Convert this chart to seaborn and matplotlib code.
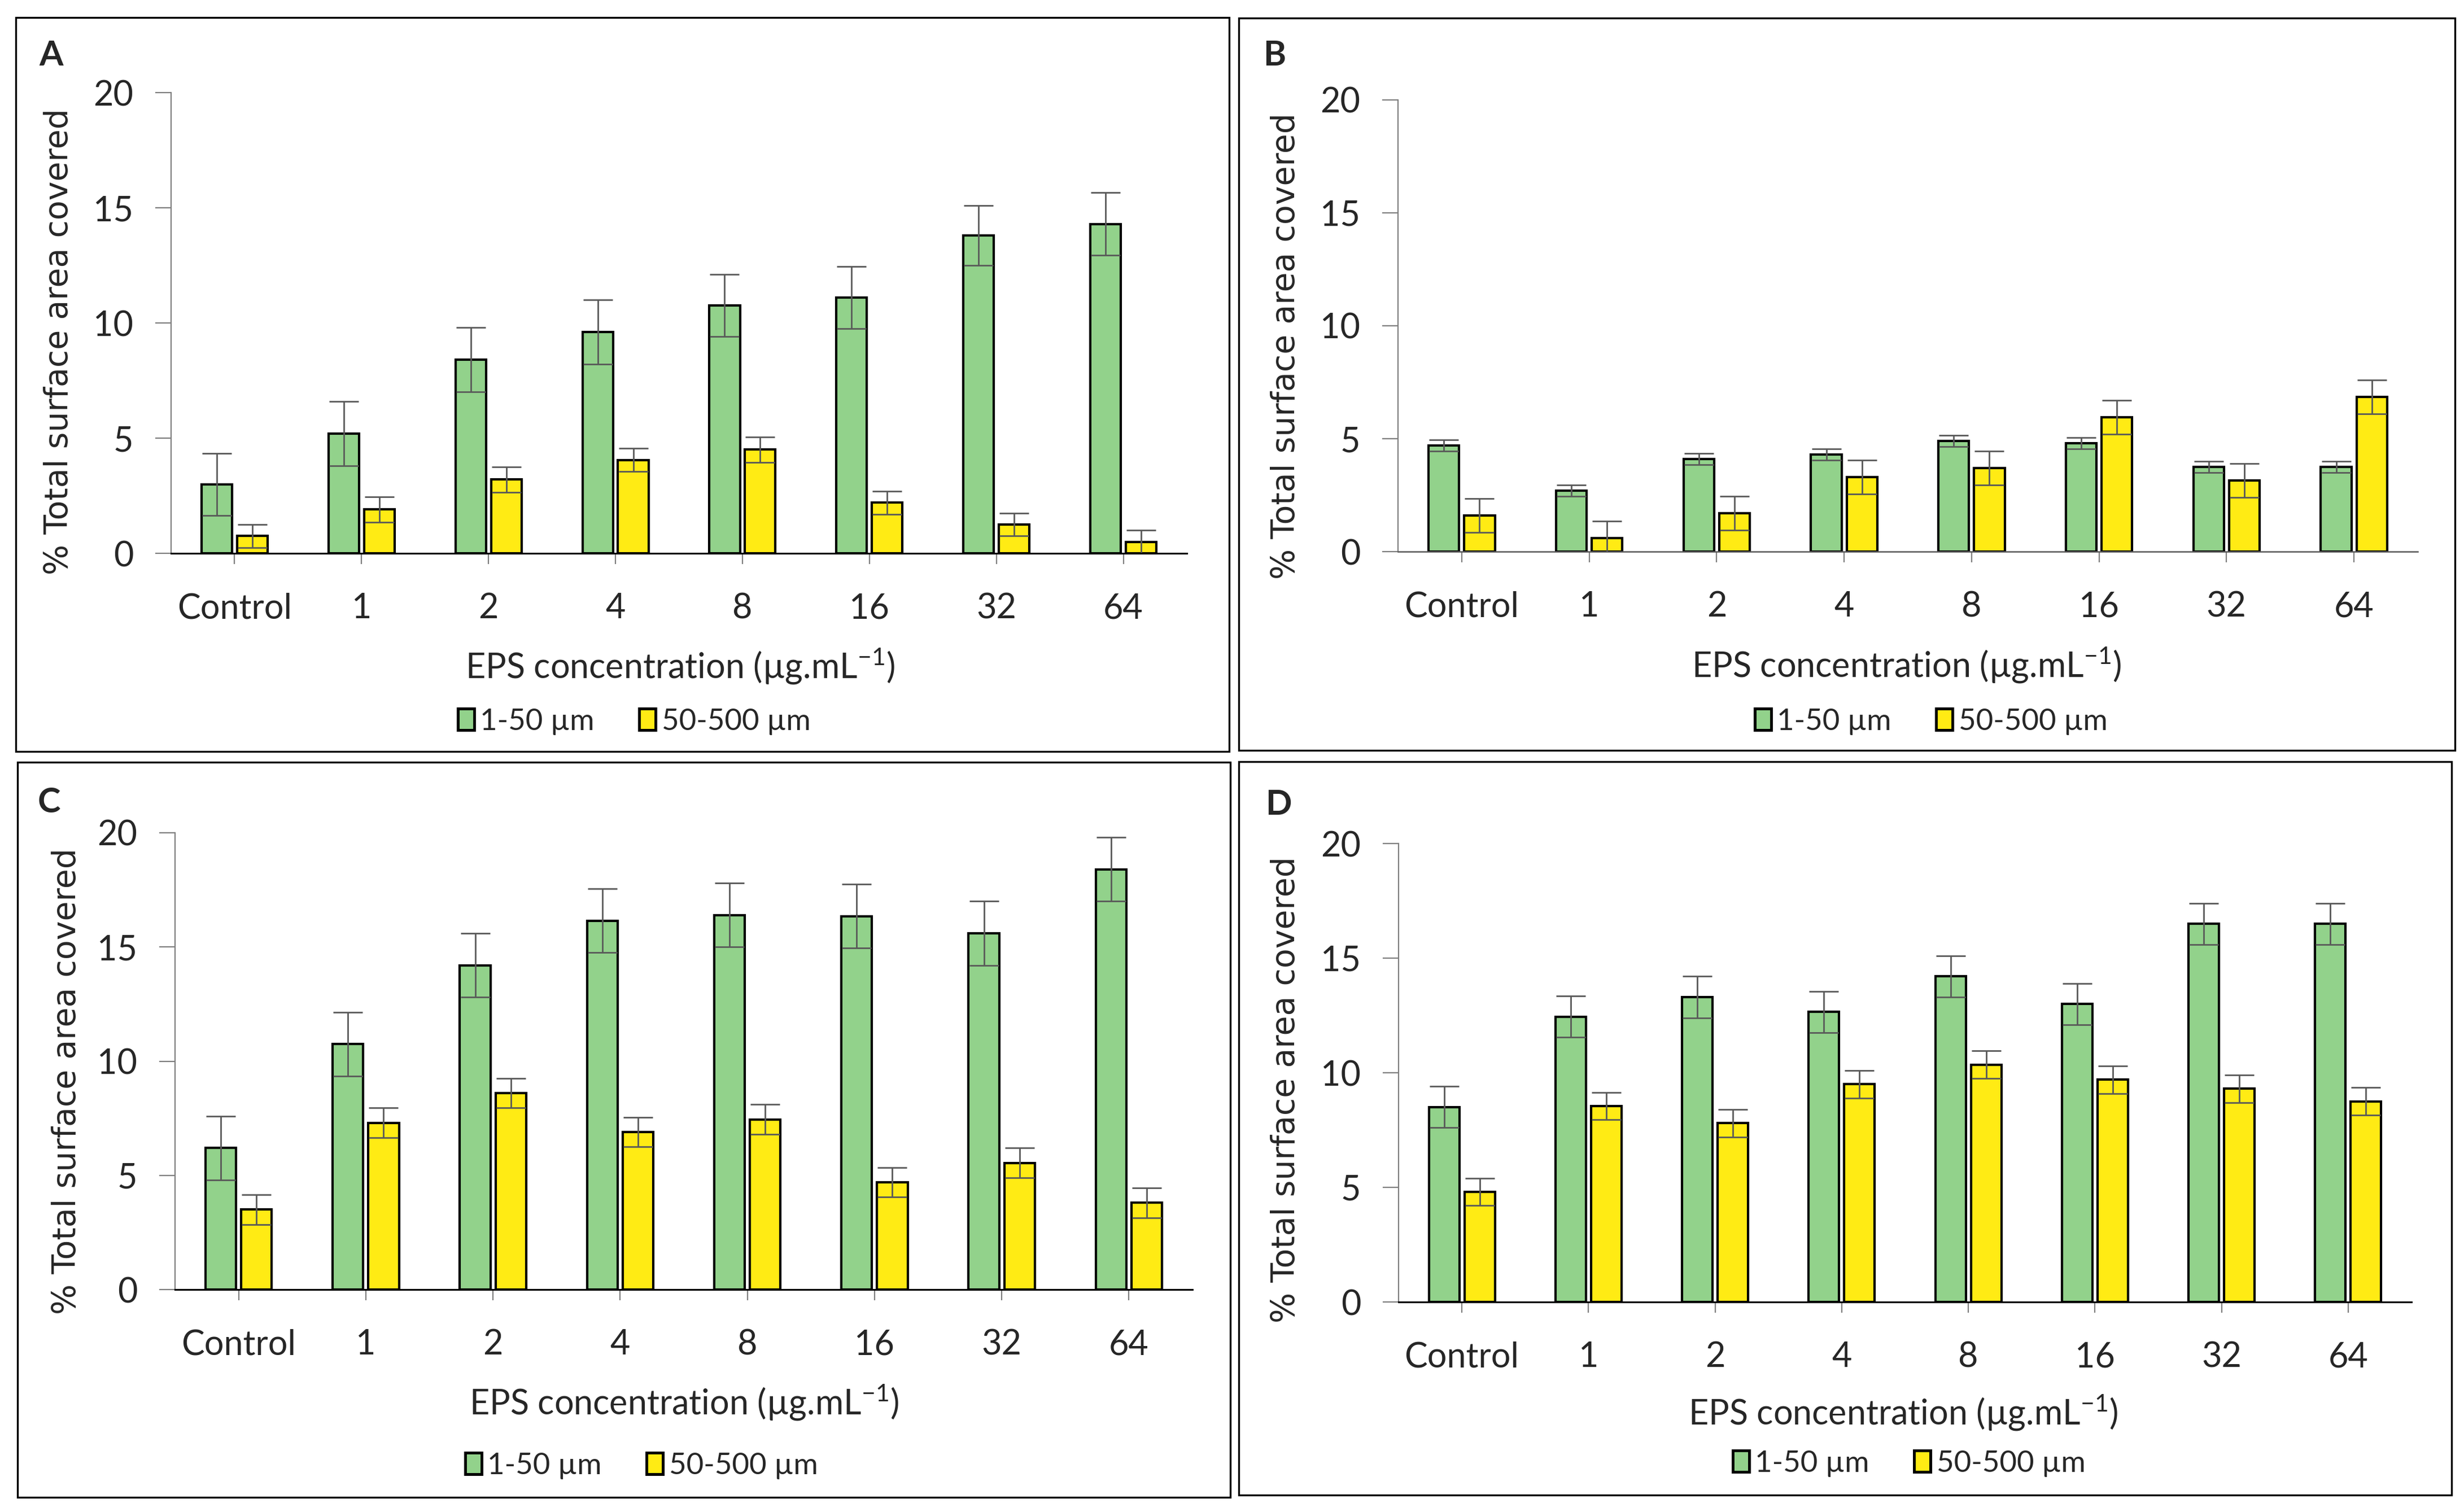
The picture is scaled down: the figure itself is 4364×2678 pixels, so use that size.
import numpy as np
import pandas as pd
import matplotlib
matplotlib.use("Agg")
import matplotlib.pyplot as plt
from matplotlib.patches import Patch, Rectangle
import seaborn as sns

# ---------------- data ----------------
categories = ["Control", "1", "2", "4", "8", "16", "32", "64"]
size_classes = ["1-50 µm", "50-500 µm"]

A_small = [3.0, 5.2, 8.4, 9.6, 10.75, 11.1, 13.8, 14.3]
A_small_err = [1.35, 1.4, 1.4, 1.4, 1.35, 1.35, 1.3, 1.35]
A_large = [0.75, 1.9, 3.2, 4.05, 4.5, 2.2, 1.25, 0.5]
A_large_err = [0.5, 0.55, 0.55, 0.5, 0.55, 0.5, 0.5, 0.5]

B_small = [4.7, 2.7, 4.1, 4.3, 4.9, 4.8, 3.75, 3.75]
B_small_err = [0.25, 0.25, 0.25, 0.25, 0.25, 0.25, 0.25, 0.25]
B_large = [1.6, 0.6, 1.7, 3.3, 3.7, 5.95, 3.15, 6.85]
B_large_err = [0.75, 0.75, 0.75, 0.75, 0.75, 0.75, 0.75, 0.75]

C_small = [6.2, 10.75, 14.2, 16.15, 16.4, 16.35, 15.6, 18.4]
C_small_err = [1.4, 1.4, 1.4, 1.4, 1.4, 1.4, 1.4, 1.4]
C_large = [3.5, 7.3, 8.6, 6.9, 7.45, 4.7, 5.55, 3.8]
C_large_err = [0.65, 0.65, 0.65, 0.65, 0.65, 0.65, 0.65, 0.65]

D_small = [8.5, 12.45, 13.3, 12.65, 14.2, 13.0, 16.5, 16.5]
D_small_err = [0.9, 0.9, 0.9, 0.9, 0.9, 0.9, 0.9, 0.9]
D_large = [4.8, 8.55, 7.8, 9.5, 10.35, 9.7, 9.3, 8.75]
D_large_err = [0.6, 0.6, 0.6, 0.6, 0.6, 0.6, 0.6, 0.6]

y_ticks = [0, 5, 10, 15, 20]
panel_letters = ["A", "B", "C", "D"]
y_label = "% Total surface area covered"
x_label = r"EPS concentration (µg.mL$^{\mathregular{-1}}$)"

# ---------------- style ----------------
sns.set_style("white")
plt.rcParams["font.family"] = ["Lato", "DejaVu Sans"]
plt.rcParams["mathtext.fontset"] = "custom"
plt.rcParams["mathtext.rm"] = "Lato"

GREEN = "#92D28B"
YELLOW = "#FFEB14"
ERR = "#595959"
W, H, DPI = 4364, 2678, 200

fig = plt.figure(figsize=(W / DPI, H / DPI), dpi=DPI)
fig.patch.set_facecolor("white")

def fx(px):
    return px / W

def fy(py):
    return 1 - py / H

# pixel geometry: axes (left, right, top(y=20), bottom(y=0))
axes_px = [
    (303, 2102, 164, 980),
    (2476, 4282, 177, 977),
    (310, 2112, 1475, 2284),
    (2477, 4271, 1494, 2306),
]
boxes_px = [
    (28, 2177, 31, 1331),
    (2194, 4348, 32, 1329),
    (31, 2179, 1350, 2652),
    (2194, 4342, 1349, 2648),
]
letters_px = [(91, 98), (2257, 98), (87, 1421), (2264, 1425)]
xlabel_px = [(1205, 1180), (3377, 1178), (1212, 2484), (3371, 2502)]
ylabel_px = [(105, 605), (2278, 613), (119, 1915), (2278, 1930)]
legend_px = [(1123, 1278), (3420, 1278), (1136, 2596), (3381, 2592)]

panels = [
    (A_small, A_small_err, A_large, A_large_err),
    (B_small, B_small_err, B_large, B_large_err),
    (C_small, C_small_err, C_large, C_large_err),
    (D_small, D_small_err, D_large, D_large_err),
]

for k, (s, se, l, le) in enumerate(panels):
    x0, x1, yt, yb = axes_px[k]
    ax = fig.add_axes([fx(x0), fy(yb), fx(x1 - x0), (yb - yt) / H])
    df = pd.DataFrame({
        "conc": categories * 2,
        "size": [size_classes[0]] * 8 + [size_classes[1]] * 8,
        "value": list(s) + list(l),
    })
    sns.barplot(data=df, x="conc", y="value", hue="size", order=categories,
                hue_order=size_classes, palette=[GREEN, YELLOW], saturation=1,
                width=0.56, gap=0.14, edgecolor="black", linewidth=1.5,
                errorbar=None, legend=False, ax=ax, zorder=2)
    errs = [se, le]
    for p in ax.patches:
        cx = p.get_x() + p.get_width() / 2
        i = int(round(cx))
        h = 0 if cx < i else 1
        ax.errorbar(cx, p.get_height(), yerr=errs[h][i], fmt="none",
                    ecolor=ERR, elinewidth=1.0, capsize=9.5, capthick=1.0,
                    zorder=3)
    ax.set_xlim(-0.5, 7.5)
    ax.set_ylim(0, 20)
    ax.set_yticks(y_ticks)
    ax.set_xlabel("")
    ax.set_ylabel("")
    for sp in ["top", "right"]:
        ax.spines[sp].set_visible(False)
    ax.spines["left"].set_color("#7f7f7f")
    ax.spines["left"].set_linewidth(0.8)
    if k == 1:
        ax.spines["bottom"].set_color("#595959")
        ax.spines["bottom"].set_linewidth(0.9)
    else:
        ax.spines["bottom"].set_color("black")
        ax.spines["bottom"].set_linewidth(1.1)
    ax.spines["bottom"].set_zorder(4)
    ax.tick_params(axis="y", direction="out", length=10, width=0.8,
                   color="#7f7f7f", pad=14, labelsize=22, left=True)
    ax.tick_params(axis="x", direction="out", length=7, width=0.8,
                   color="#7f7f7f", pad=18, labelsize=22, bottom=True)
    ax.set_facecolor("white")

    # axis titles
    lx, ly = xlabel_px[k]
    fig.text(fx(lx), fy(ly), x_label, ha="center", va="center", fontsize=22)
    yx, yy = ylabel_px[k]
    fig.text(fx(yx), fy(yy), y_label, ha="center", va="center", rotation=90,
             fontsize=20.5, family=["DejaVu Sans"])
    # panel letter
    px_, py_ = letters_px[k]
    fig.text(fx(px_), fy(py_), panel_letters[k], ha="center", va="center",
             fontsize=22, fontweight="bold")
    # legend
    handles = [Patch(facecolor=GREEN, edgecolor="black", linewidth=1.8),
               Patch(facecolor=YELLOW, edgecolor="black", linewidth=1.8)]
    gx, gy = legend_px[k]
    fig.legend(handles, size_classes, loc="center",
               bbox_to_anchor=(fx(gx), fy(gy)), ncol=2, frameon=False,
               fontsize=19, handlelength=0.55, handleheight=0.75,
               handletextpad=0.2, columnspacing=1.5, borderpad=0)
    # panel frame
    bx0, bx1, bt, bb = boxes_px[k]
    fig.add_artist(Rectangle((fx(bx0), fy(bb)), fx(bx1 - bx0), (bb - bt) / H,
                             transform=fig.transFigure, fill=False,
                             edgecolor="black", linewidth=1.2))

fig.savefig("out.png", dpi=DPI, facecolor="white")
